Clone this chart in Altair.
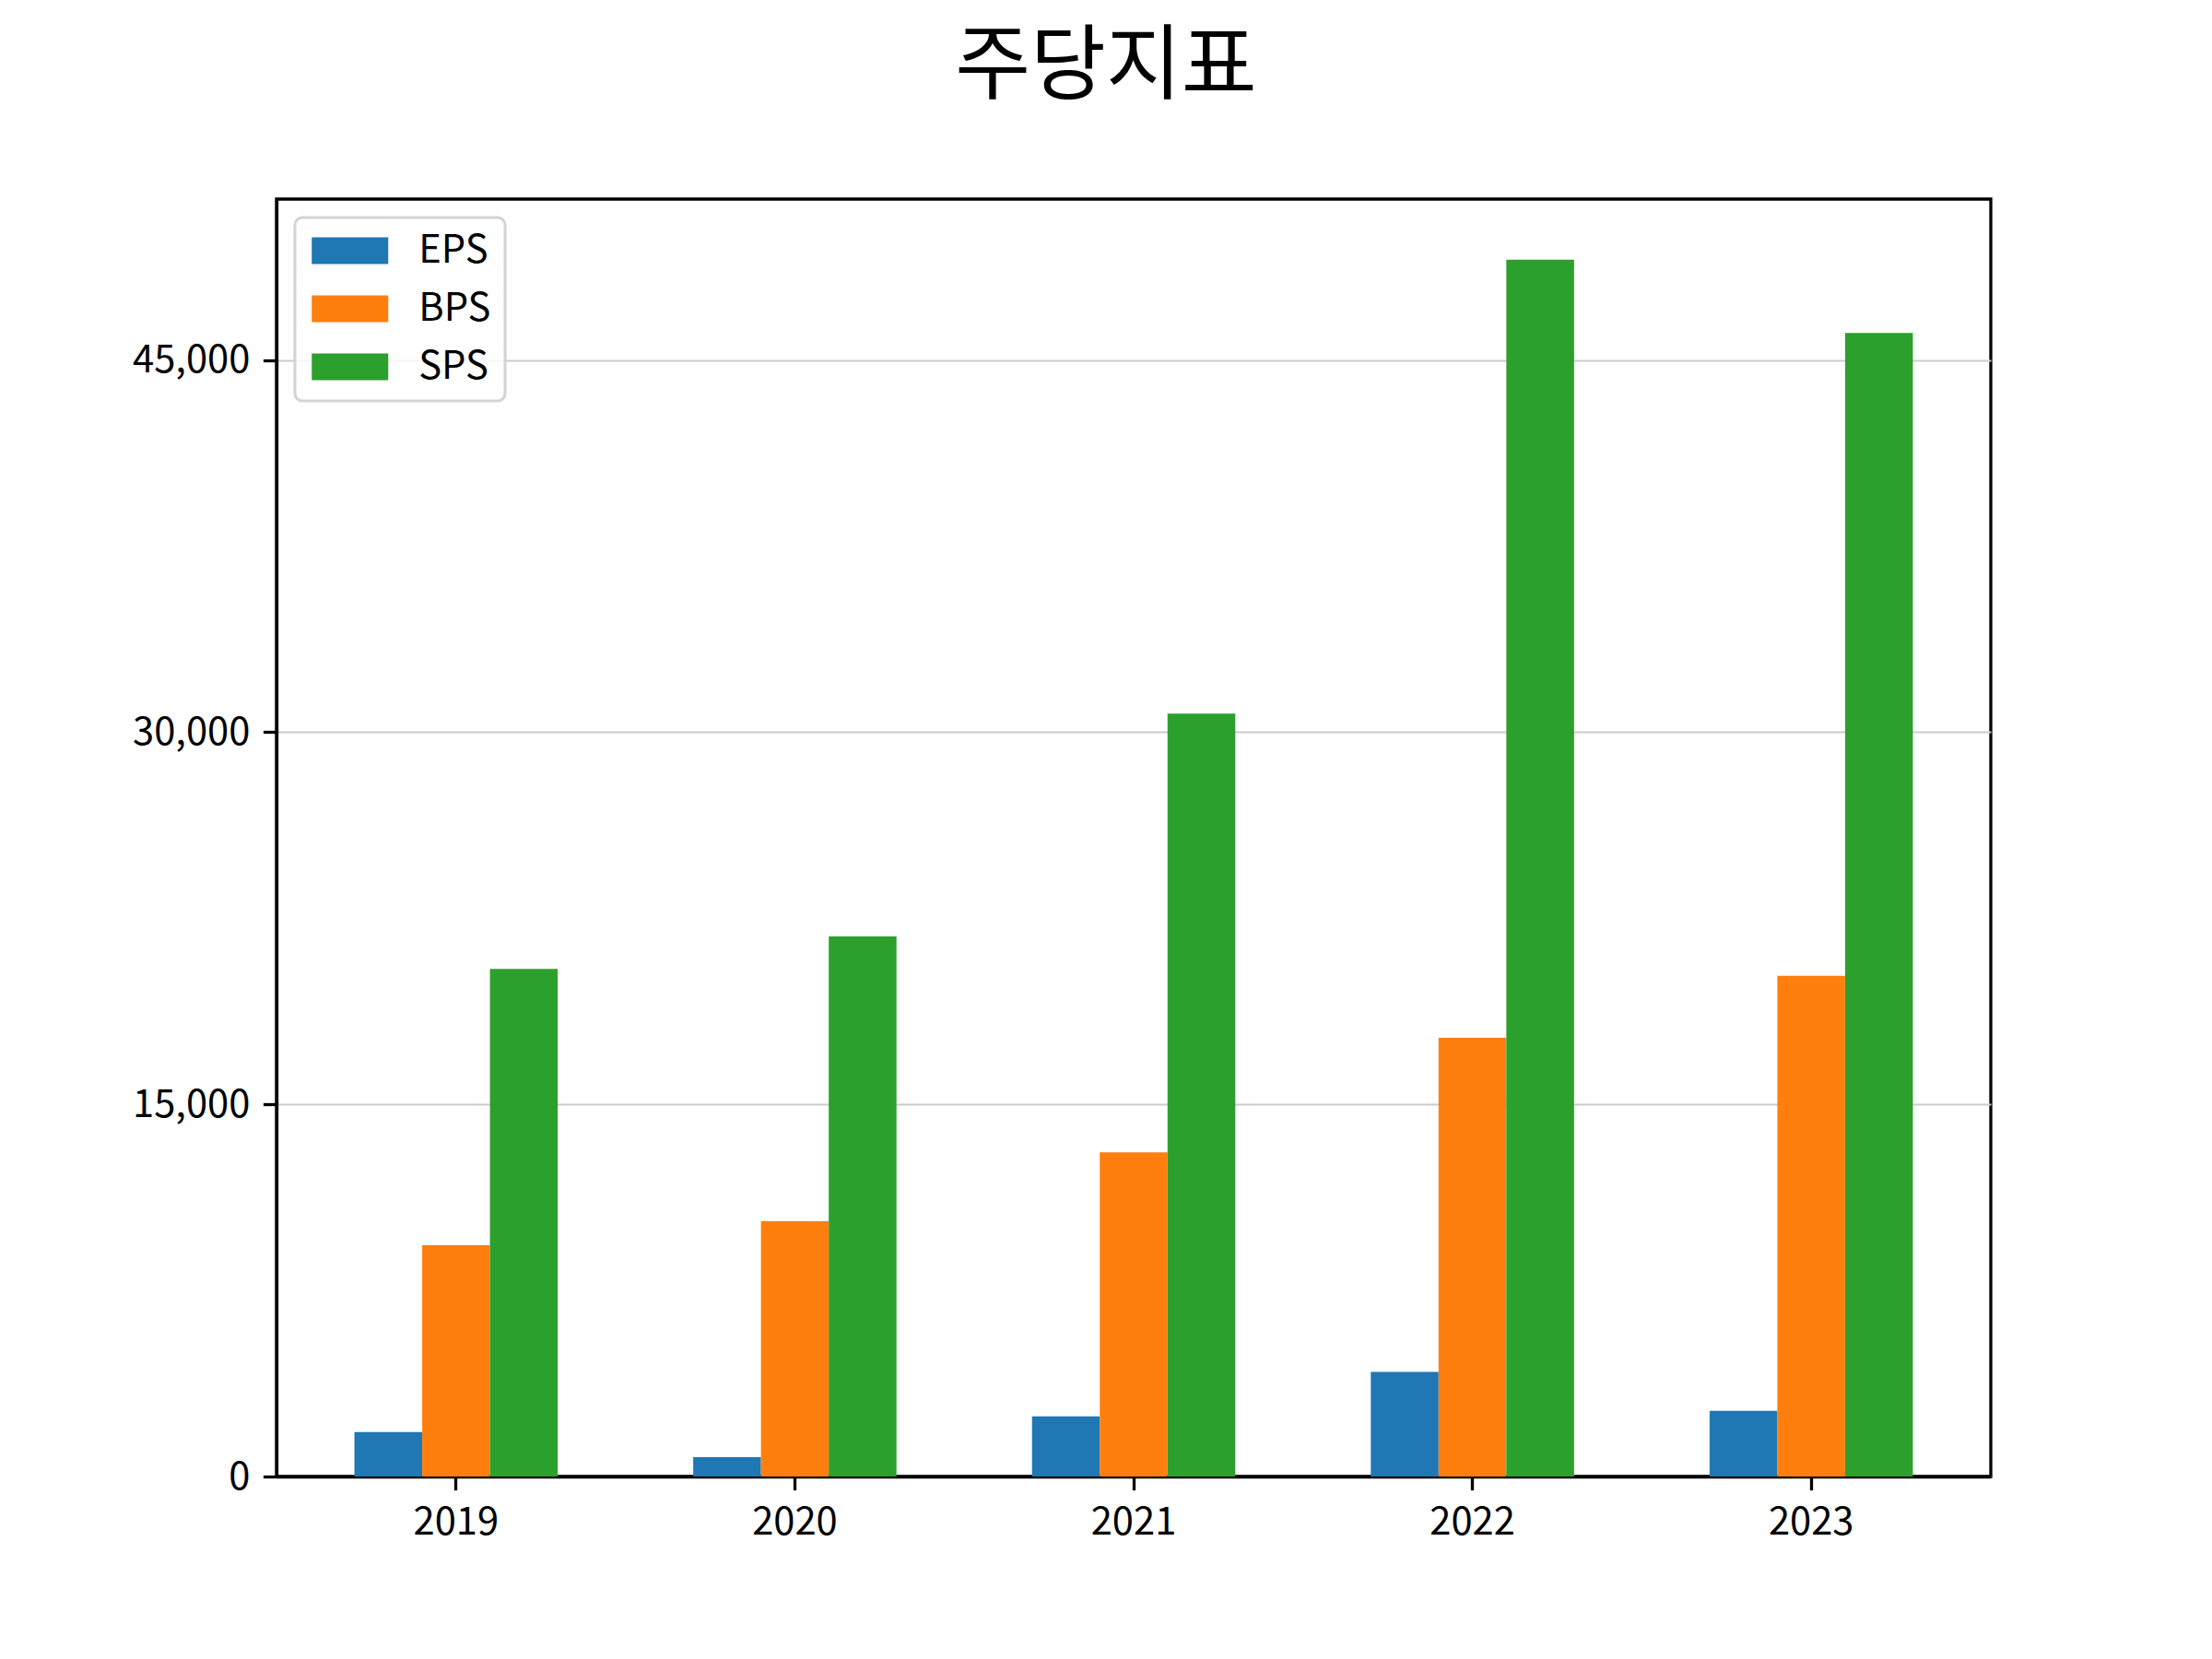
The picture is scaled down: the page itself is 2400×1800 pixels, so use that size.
import altair as alt
import pandas as pd

years = ["2019", "2020", "2021", "2022", "2023"]
series = ["EPS", "BPS", "SPS"]
eps = [1790, 780, 2420, 4220, 2650]
bps = [9320, 10290, 13070, 17680, 20180]
sps = [20460, 21770, 30750, 49040, 46090]
colors = ["#1f77b4", "#ff7f0e", "#2ca02c"]
y_ticks = [0, 15000, 30000, 45000]
title_text = "주당지표"

rows = []
for name, vals in zip(series, [eps, bps, sps]):
    for yr, v in zip(years, vals):
        rows.append({"year": yr, "series": name, "value": v})
df = pd.DataFrame(rows)

FONT = "Noto Sans CJK KR"
FS = 41.7
LW = 3.3

chart = alt.Chart(df).mark_bar().encode(
    x=alt.X("year:N", sort=years,
            scale=alt.Scale(paddingInner=0.4, paddingOuter=0.23),
            axis=alt.Axis(title=None, labelAngle=0, grid=False, bandPosition=0.5)),
    xOffset=alt.XOffset("series:N", sort=series,
                        scale=alt.Scale(paddingInner=0, paddingOuter=0)),
    y=alt.Y("value:Q",
            scale=alt.Scale(domain=[0, 51486], nice=False, zero=True),
            axis=alt.Axis(title=None, values=y_ticks, format=",.0f", grid=True,
                          gridColor="#cccccc", gridWidth=2)),
    color=alt.Color("series:N", sort=series,
                    scale=alt.Scale(domain=series, range=colors),
                    legend=alt.Legend(
                        title=None, orient="top-left", offset=20,
                        symbolType="M-2,-0.7H2V0.7H-2Z", symbolSize=1722,
                        symbolStrokeWidth=0, symbolOpacity=1,
                        symbolOffset=23.75, labelOffset=53.5,
                        labelFontSize=FS, labelFont=FONT, labelColor="black")),
).properties(
    width=1860,
    height=1386,
    autosize=alt.AutoSizeParams(type="none"),
    padding={"left": 292, "top": 208, "right": 232, "bottom": 190},
    title=alt.TitleParams(title_text, font=FONT, fontSize=89, fontWeight="normal",
                          color="black", anchor="middle", dx=-30, offset=27,
                          baseline="alphabetic"),
).configure_view(
    stroke="black", strokeWidth=LW
).configure_axis(
    labelFont=FONT, labelFontSize=FS, labelColor="black",
    domainColor="black", domainWidth=LW,
    tickColor="black", tickWidth=LW, tickSize=14.6, labelPadding=14.6,
    zindex=1,
).configure_legend(
    rowPadding=20, padding=15,
    strokeColor="#d4d4d4", strokeWidth=3, cornerRadius=8,
    fillColor="rgba(255,255,255,0.8)",
)

chart.save("out.html", embed_options={"renderer": "svg", "actions": False})
